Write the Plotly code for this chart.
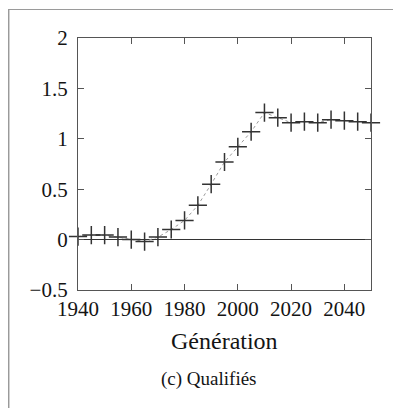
import plotly.graph_objects as go

generation = [1940, 1945, 1950, 1955, 1960, 1965, 1970, 1975, 1980, 1985, 1990,
              1995, 2000, 2005, 2010, 2015, 2020, 2025, 2030, 2035, 2040, 2045, 2050]
qualifies = [0.03, 0.045, 0.045, 0.025, 0.0, -0.02, 0.025, 0.10, 0.19, 0.34, 0.55,
             0.77, 0.92, 1.07, 1.26, 1.21, 1.16, 1.17, 1.16, 1.19, 1.18, 1.17, 1.16]

x_tickvals = [1940, 1960, 1980, 2000, 2020, 2040]
x_ticktext = ["1940", "1960", "1980", "2000", "2020", "2040"]
y_tickvals = [-0.5, 0, 0.5, 1, 1.5, 2]
y_ticktext = ["\u22120.5", "0", "0.5", "1", "1.5", "2"]

FONT = "Liberation Serif"
INK = "#141414"

# The page body has an 8px margin, so the figure starts at (8, 8) in the window.
OFF = 8
W, H = 401 - OFF, 408 - OFF

fig = go.Figure()
fig.add_trace(go.Scatter(
    x=generation, y=qualifies, mode="lines+markers",
    line=dict(color="#9a9a9a", width=1, dash="dot"),
    marker=dict(symbol="cross-thin", size=13, line=dict(color="#333333", width=1.5)),
    cliponaxis=False, showlegend=False,
))

# plot area in window coords: left 78, right 371, top 38, bottom 290
L, R, T, B = 78 - OFF, 401 - 371, 38 - OFF, 408 - 290
pw, ph = W - L - R, H - T - B

def px(xw):
    return (xw - OFF - L) / pw

def py(yw):
    return (H - B - (yw - OFF)) / ph

fig.update_layout(
    width=W, height=H,
    margin=dict(l=L, r=R, t=T, b=B, pad=0),
    paper_bgcolor="white", plot_bgcolor="white",
    font=dict(family=FONT, size=21, color=INK),
    xaxis=dict(range=[1940, 2050], tickvals=x_tickvals, ticktext=x_ticktext,
               ticks="inside", ticklen=6, tickwidth=1.2, tickcolor="#555555",
               showline=True, linecolor="#555555", linewidth=1.3, mirror="ticks",
               showgrid=False, zeroline=False,
               tickfont=dict(family=FONT, size=21, color=INK)),
    yaxis=dict(range=[-0.5, 2], tickvals=y_tickvals, ticktext=y_ticktext,
               ticks="inside", ticklen=6, tickwidth=1.2, tickcolor="#555555",
               showline=True, linecolor="#555555", linewidth=1.3, mirror="ticks",
               showgrid=False, zeroline=True, zerolinecolor="#333333", zerolinewidth=1.2,
               ticklabelstandoff=5,
               tickfont=dict(family=FONT, size=21, color=INK)),
    shapes=[
        dict(type="line", xref="paper", yref="paper", x0=px(8), x1=px(401), y0=py(9.5), y1=py(9.5),
             line=dict(color="#9a9a9a", width=1)),
        dict(type="line", xref="paper", yref="paper", x0=px(8.7), x1=px(8.7), y0=py(9), y1=py(408),
             line=dict(color="#9a9a9a", width=1.5)),
    ],
    annotations=[
        dict(text="Génération", xref="paper", yref="paper", x=px(224), y=py(341),
             xanchor="center", yanchor="middle", showarrow=False,
             font=dict(family=FONT, size=24, color=INK)),
        dict(text="(c) Qualifiés", xref="paper", yref="paper", x=px(208), y=py(379),
             xanchor="center", yanchor="middle", showarrow=False,
             font=dict(family=FONT, size=19, color=INK)),
    ],
)

fig.write_html("out.html")
